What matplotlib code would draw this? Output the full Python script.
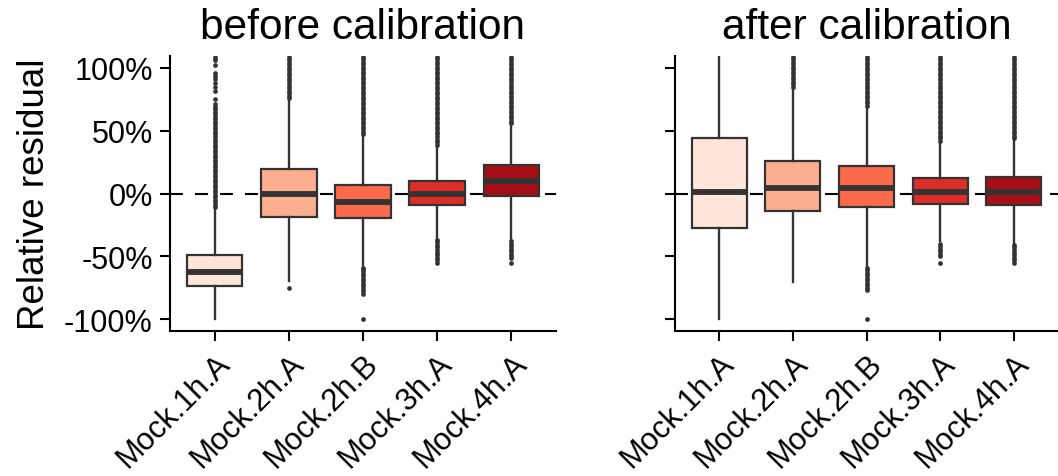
import matplotlib.pyplot as plt

plt.rcParams['font.family'] = ['Liberation Sans', 'DejaVu Sans']

samples = ['Mock.1h.A', 'Mock.2h.A', 'Mock.2h.B', 'Mock.3h.A', 'Mock.4h.A']
colors = ['#FEE5D9', '#FCAE91', '#FB6A4A', '#DE2D26', '#A50F15']

# relative residual (%)
before_q1 = [-73.4, -18.7, -19.7, -9.1, -1.9]
before_med = [-62.7, 0.0, -6.4, 0.0, 9.6]
before_q3 = [-48.6, 19.4, 6.9, 9.6, 22.6]
before_lo = [-100, -70, -58, -36, -36.5]
before_hi = [-12.5, 75, 46, 38, 55]
before_fliers = [
    [-11, -9, -7, -5, -3, -1, 1, 3, 5, 7, 9, 11, 13, 15, 17, 19, 21, 23, 25, 27,
     29, 31, 33, 35, 37, 39, 41, 43, 45, 47, 49, 51, 53, 55, 57, 59, 61, 63, 65,
     67, 69, 71, 75.6, 81.6, 85.1, 88.3, 91.5, 93.6, 95.7, 102, 106, 108.2, 110],
    [-75.6, 76, 78, 80, 82, 84, 86, 88, 90, 92, 94, 96, 98, 100, 102, 104, 106,
     108, 110, 112],
    [-100, -80, -78, -76, -74, -72, -70, -68, -66, -64, -62, -60, -59,
     47, 49, 51, 53, 55, 57, 59, 61, 63, 65, 67, 69, 71, 73, 75, 77, 79, 81, 83,
     85, 87, 89, 91, 93, 95, 97, 99, 101, 103, 105, 107, 109, 111],
    [-55, -53, -51, -49, -47, -45, -43, -41, -39, -37,
     39, 41, 43, 45, 47, 49, 51, 53, 55, 57, 59, 61, 63, 65, 67, 69, 71, 73, 75,
     77, 79, 81, 83, 85, 87, 89, 91, 93, 95, 97, 99, 101, 103, 105, 107, 109, 111],
    [-55, -51.7, -50, -48, -46, -44, -42, -40, -38,
     56, 58, 60, 62, 64, 66, 68, 70, 72, 74, 76, 78, 80, 82, 84, 86, 88, 90, 92,
     94, 96, 98, 100, 102, 104, 106, 108, 110, 112],
]

after_q1 = [-27.8, -14.2, -10.4, -8.3, -9.1]
after_med = [1.3, 4.0, 4.0, 1.3, 1.3]
after_q3 = [44.0, 25.6, 22.0, 12.2, 13.3]
after_lo = [-100, -70.7, -58, -38, -40.5]
after_hi = [115, 84, 68.8, 41, 43]
after_fliers = [
    [],
    [85, 87, 89, 91, 93, 95, 97, 99, 101, 103, 105, 107, 109, 111],
    [-100, -77, -75, -73, -71, -69, -67, -65, -63, -61, -59,
     70, 72, 74, 76, 78, 80, 82, 84, 86, 88, 90, 92, 94, 96, 98, 100, 102, 104,
     106, 108, 110, 112],
    [-55, -49.5, -48, -46, -44, -42, -40,
     42, 44, 46, 48, 50, 52, 54, 56, 58, 60, 62, 64, 66, 68, 70, 72, 74, 76, 78,
     80, 82, 84, 86, 88, 90, 92, 94, 96, 98, 100, 102, 104, 106, 108, 110, 112],
    [-55, -53, -51, -49, -47, -45, -43, -41,
     44, 46, 48, 50, 52, 54, 56, 58, 60, 62, 64, 66, 68, 70, 72, 74, 76, 78, 80,
     82, 84, 86, 88, 90, 92, 94, 96, 98, 100, 102, 104, 106, 108, 110, 112],
]

yticks = [-100, -50, 0, 50, 100]
ytick_labels = ['-100%', '-50%', '0%', '50%', '100%']

dark = '#333333'

fig = plt.figure(figsize=(10.58, 4.77), dpi=100)
ax1 = fig.add_axes([170 / 1058, 145 / 477, 386 / 1058, 275 / 477])
ax2 = fig.add_axes([675 / 1058, 145 / 477, 383 / 1058, 275 / 477])


def draw_panel(ax, title, q1, med, q3, lo, hi, fliers):
    stats = []
    for i in range(len(samples)):
        stats.append({'med': med[i], 'q1': q1[i], 'q3': q3[i],
                      'whislo': lo[i], 'whishi': hi[i], 'fliers': fliers[i]})
    ax.axhline(0, color='black', lw=1.5, ls=(0, (6.2, 5.8)), zorder=1)
    bp = ax.bxp(stats, positions=range(len(samples)), widths=0.75,
                patch_artist=True, showcaps=False, zorder=2,
                boxprops=dict(edgecolor=dark, linewidth=1.6),
                whiskerprops=dict(color=dark, linewidth=1.7),
                medianprops=dict(color=dark, linewidth=4.2, solid_capstyle='butt'),
                flierprops=dict(marker='o', markersize=3.4, markerfacecolor=dark,
                                markeredgecolor=dark, markeredgewidth=0))
    for patch, c in zip(bp['boxes'], colors):
        patch.set_facecolor(c)
    ax.set_xlim(-0.6, 4.6)
    ax.set_ylim(-109.5, 109.5)
    ax.set_xticks(range(len(samples)))
    ax.set_xticklabels(samples, rotation=45, ha='right', va='top',
                       rotation_mode='anchor', fontsize=22.3)
    ax.set_yticks(yticks)
    for s in ['top', 'right']:
        ax.spines[s].set_visible(False)
    for s in ['left', 'bottom']:
        ax.spines[s].set_linewidth(1.5)
        ax.spines[s].set_color('black')
    ax.tick_params(length=7, width=1.5, color='black')
    ax.tick_params(axis='x', pad=5.5)
    ax.tick_params(axis='y', labelsize=22, pad=5.5)
    ax.set_title(title, fontsize=30.5, pad=13)


draw_panel(ax1, 'before calibration', before_q1, before_med, before_q3,
           before_lo, before_hi, before_fliers)
draw_panel(ax2, 'after calibration', after_q1, after_med, after_q3,
           after_lo, after_hi, after_fliers)

ax1.set_yticklabels(ytick_labels)
ax2.set_yticklabels([])
ax1.set_ylabel('Relative residual', fontsize=26.5)
ax1.yaxis.set_label_coords(-0.305, 0.5)

fig.savefig('out.png', dpi=100)
